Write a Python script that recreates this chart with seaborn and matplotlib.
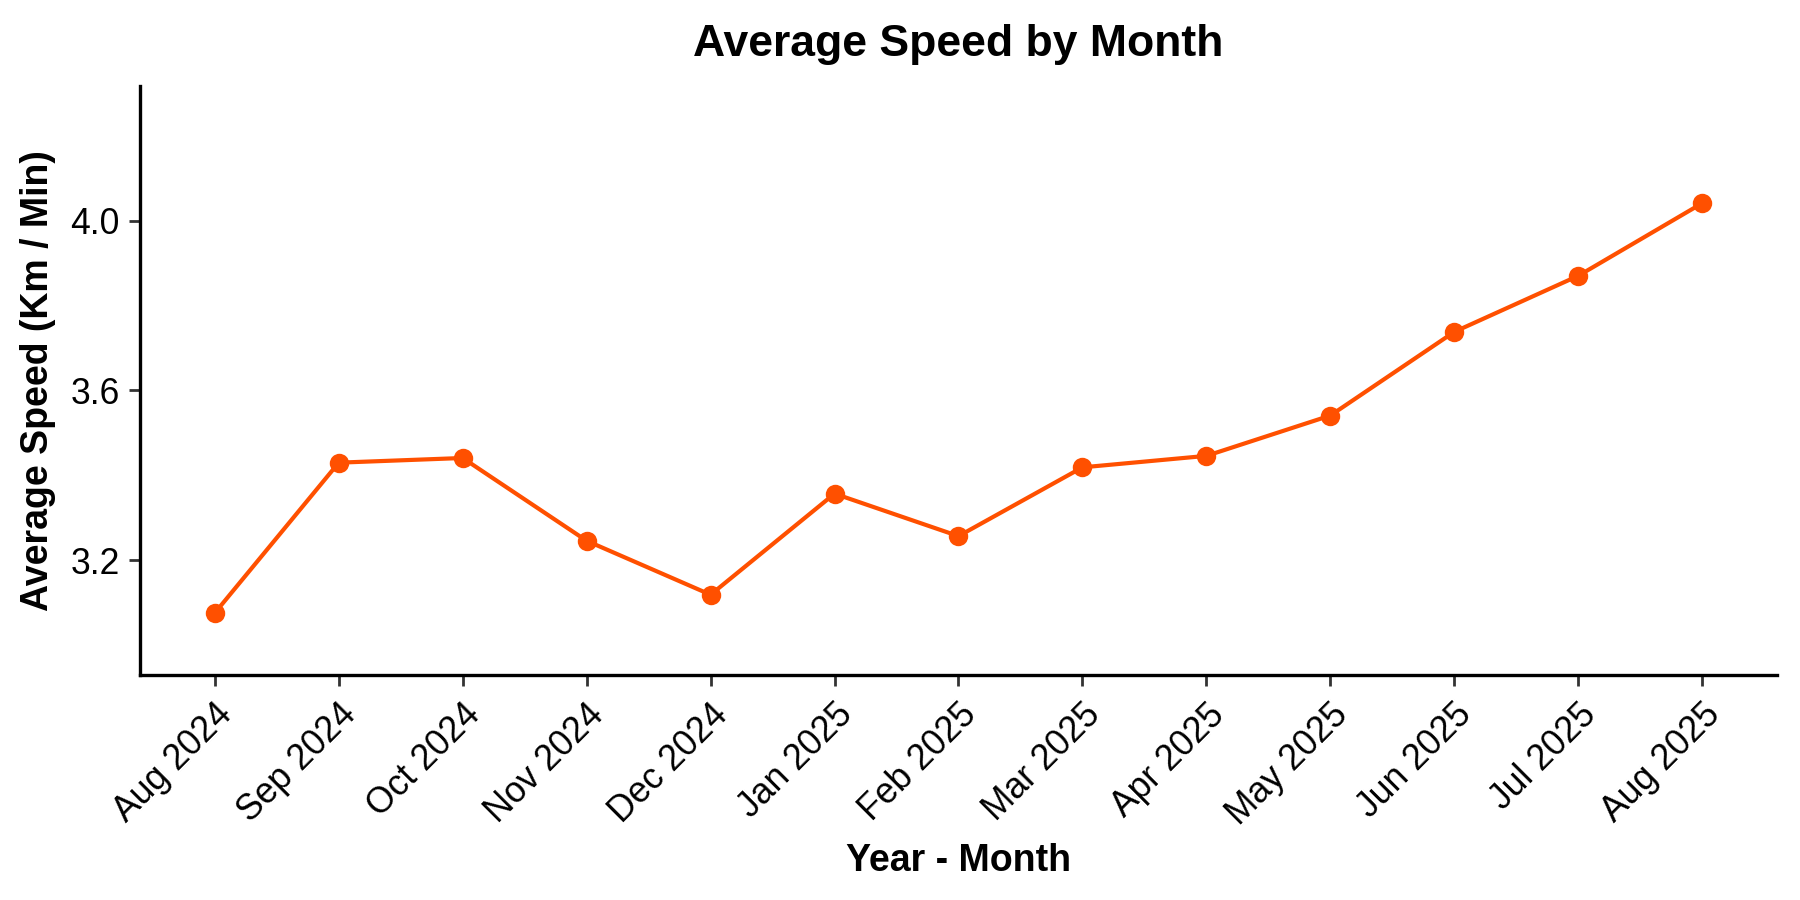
import matplotlib
matplotlib.use("Agg")
import matplotlib.pyplot as plt
import seaborn as sns
import pandas as pd

# monthly values
months = ["Aug 2024", "Sep 2024", "Oct 2024", "Nov 2024", "Dec 2024", "Jan 2025",
          "Feb 2025", "Mar 2025", "Apr 2025", "May 2025", "Jun 2025", "Jul 2025", "Aug 2025"]
avg_speed = [3.076, 3.430, 3.441, 3.246, 3.119, 3.357, 3.257, 3.419, 3.446, 3.541, 3.738, 3.870, 4.041]
y_ticks = [3.2, 3.6, 4.0]

df = pd.DataFrame({"Month": months, "Speed": avg_speed})

sns.set_theme(style="ticks")
plt.rcParams["font.family"] = ["Liberation Sans", "DejaVu Sans"]
plt.rcParams["text.color"] = "black"
plt.rcParams["axes.labelcolor"] = "black"

line_color = "#FF5000"

fig, ax = plt.subplots(figsize=(9, 4.5), dpi=200)
fig.subplots_adjust(left=0.078, right=0.987, top=0.904, bottom=0.25)

sns.lineplot(data=df, x="Month", y="Speed", sort=False, color=line_color,
             linewidth=1.5, marker="o", markersize=7, markeredgewidth=0, ax=ax)

ax.set_xlim(-0.6, len(months) - 0.4)
ax.set_ylim(2.93, 4.316)
ax.set_yticks(y_ticks)
ax.set_yticklabels([f"{v:.1f}" for v in y_ticks])
ax.set_xticks(range(len(months)))
ax.set_xticklabels(months, rotation=45, ha="right", rotation_mode="anchor")

ax.tick_params(axis="both", labelsize=12.8, length=4, width=1, color="#333333",
               labelcolor="black")
ax.tick_params(axis="x", pad=4)
for side in ["top", "right"]:
    ax.spines[side].set_visible(False)
for side in ["left", "bottom"]:
    ax.spines[side].set_linewidth(1.2)
    ax.spines[side].set_color("black")

ax.set_title("Average Speed by Month", fontsize=16, fontweight="bold", pad=11, color="black")
ax.set_xlabel("Year - Month", fontsize=13.5, fontweight="bold", labelpad=4)
ax.set_ylabel("Average Speed (Km / Min)", fontsize=13.5, fontweight="bold", labelpad=5)

fig.savefig("out.png", dpi=200)
